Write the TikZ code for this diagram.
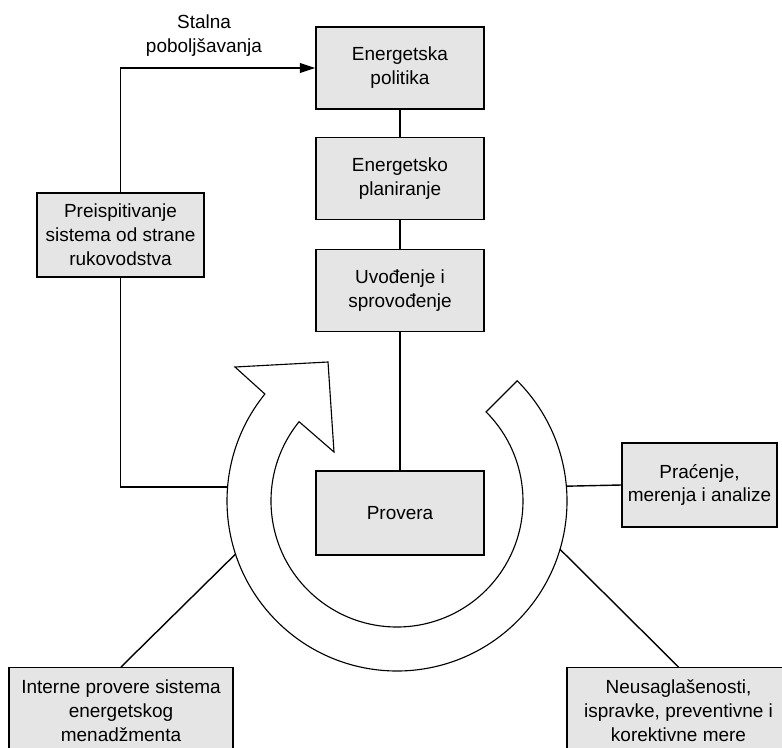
\documentclass[tikz,border=0pt]{standalone}
\usepackage{fontspec}
\setmainfont{Liberation Sans}
\usetikzlibrary{arrows.meta,calc}
\begin{document}
\begin{tikzpicture}[x=0.025cm,y=-0.025cm,>={Triangle[length=11pt,width=7pt]},
  box/.style={draw,line width=1pt,fill=gray!20,align=center,minimum height=2.1cm,
    font=\fontsize{13.5}{17}\selectfont},
  ring/.style={draw,line width=0.8pt,fill=white},
  link/.style={line width=1pt}]
\clip (0,0) rectangle (782,748);

% the cycle arrow
\coordinate (ctr) at (397,501);
\draw[ring] ($(ctr)+(-45:170)$) arc[start angle=-45,end angle=219,radius=170]
  -- (235,367) -- (328,362) -- (334,452)
  -- ($(ctr)+(219:126)$) arc[start angle=219,end angle=-45,radius=126] -- cycle;
\coordinate (rl) at ($(ctr)+(184.7:170)$);
\coordinate (rr) at ($(ctr)+(-5:170)$);
\coordinate (rbl) at ($(ctr)+(161.8:170)$);
\coordinate (rbr) at ($(ctr)+(16.5:170)$);

\node[box,minimum width=4.2cm,minimum height=2.05cm] (pol) at (400,68) {Energetska\\politika};
\node[box,minimum width=4.2cm,minimum height=2.05cm] (plan) at (400,178.5) {Energetsko\\planiranje};
\node[box,minimum width=4.2cm,minimum height=2.05cm] (uvod) at (400,290.5) {Uvođenje i\\sprovođenje};
\node[box,minimum width=4.2cm] (prov) at (400,513) {Provera};
\node[box,minimum width=4.175cm] (preisp) at (120.5,235) {Preispitivanje\\sistema od strane\\rukovodstva};
\node[box,minimum width=3.875cm] (prac) at (699.5,485) {Praćenje,\\merenja i analize};
\node[box,minimum width=5.6cm,minimum height=2.15cm,anchor=north] (intern) at (121,667)
  {Interne provere sistema\\energetskog\\menadžmenta};
\node[box,minimum width=5.575cm,minimum height=2.15cm,anchor=north] (neus) at (678.5,667)
  {Neusaglašenosti,\\ispravke, preventivne i\\korektivne mere};
\node[align=center,font=\fontsize{13.5}{17}\selectfont] (stalna) at (204,36) {Stalna\\poboljšavanja};

\draw[link] (pol) -- (plan);
\draw[link] (plan) -- (uvod);
\draw[link] (uvod) -- (prov);
\draw[link,->] (preisp.north) |- (pol.west);
\draw[link] (preisp.south) |- (rl);
\draw[link] (rr) -- (prac.west);
\draw[link] (rbl) -- (intern.north);
\draw[link] (rbr) -- (neus.north);
\end{tikzpicture}
\end{document}
